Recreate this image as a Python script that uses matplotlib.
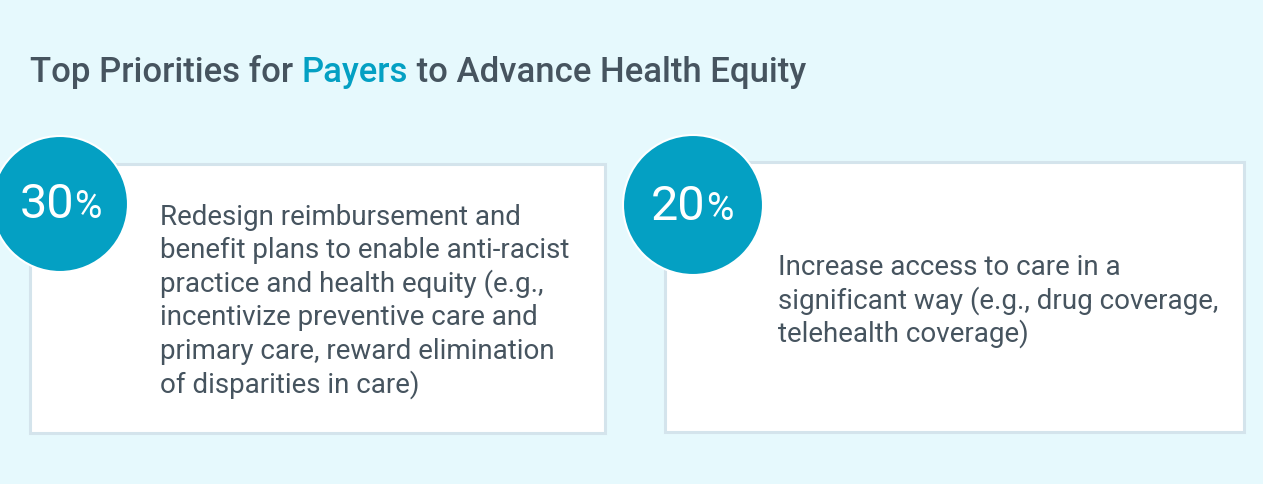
import matplotlib
matplotlib.use("Agg")
from matplotlib import pyplot as plt
from matplotlib.patches import Rectangle, Circle

plt.rcParams['font.family'] = ['Roboto', 'DejaVu Sans']

# datos del grafico
titulo = ["Top Priorities for ", "Payers", " to Advance Health Equity"]
porcentajes = [30, 20]
descripciones = [
    ["Redesign reimbursement and",
     "benefit plans to enable anti-racist",
     "practice and health equity (e.g.,",
     "incentivize preventive care and",
     "primary care, reward elimination",
     "of disparities in care)"],
    ["Increase access to care in a",
     "significant way (e.g., drug coverage,",
     "telehealth coverage)"],
]

fondo = "#e6f9fd"
azul = "#04a0c3"
gris = "#46545f"
borde = "#d4e4ec"

W, H = 1263, 485
fig = plt.figure(figsize=(W / 100, H / 100), dpi=100)
fig.patch.set_facecolor(fondo)
ax = fig.add_axes([0, 0, 1, 1])
ax.set_xlim(0, W)
ax.set_ylim(H, 0)
ax.axis("off")
ax.set_facecolor(fondo)

# caja, circulo, texto de cada tarjeta
cajas = [(30, 165, 575, 269), (665, 163, 579, 270)]
circulos = [(60, 205, 68), (693, 206, 70)]
pos_num = [(20, 218), (651, 220)]
pos_texto = [(160, 225, 33.5), (778, 275, 33.5)]

fig.canvas.draw()
renderer = fig.canvas.get_renderer()


def escribir_seguido(x, y, partes, **kw):
    # escribe trozos de texto uno tras otro en la misma linea base
    for texto, props in partes:
        t = ax.text(x, y, texto, va="baseline", ha="left", **props, **kw)
        bb = t.get_window_extent(renderer=renderer)
        x = ax.transData.inverted().transform((bb.x1, bb.y0))[0]
    return x


# titulo con "Payers" en azul
escribir_seguido(30, 82, [(titulo[0], dict(color=gris)),
                          (titulo[1], dict(color=azul)),
                          (titulo[2], dict(color=gris))],
                 fontsize=25, fontweight="medium")

for i in range(len(porcentajes)):
    x0, y0, w, h = cajas[i]
    ax.add_patch(Rectangle((x0, y0), w, h, facecolor="white",
                           edgecolor=borde, linewidth=2.2, zorder=1))
    cx, cy, r = circulos[i]
    ax.add_patch(Circle((cx, cy), r, facecolor=azul, edgecolor="white",
                        linewidth=1.5, zorder=2))
    nx, ny = pos_num[i]
    escribir_seguido(nx, ny, [(str(porcentajes[i]), dict(fontsize=35)),
                              ("%", dict(fontsize=27))],
                     color="white", zorder=3)
    tx, ty, paso = pos_texto[i]
    for j, linea in enumerate(descripciones[i]):
        ax.text(tx, ty + j * paso, linea, va="baseline", ha="left",
                fontsize=20, color=gris, zorder=3)

fig.savefig("out.png", dpi=100, facecolor=fondo)
